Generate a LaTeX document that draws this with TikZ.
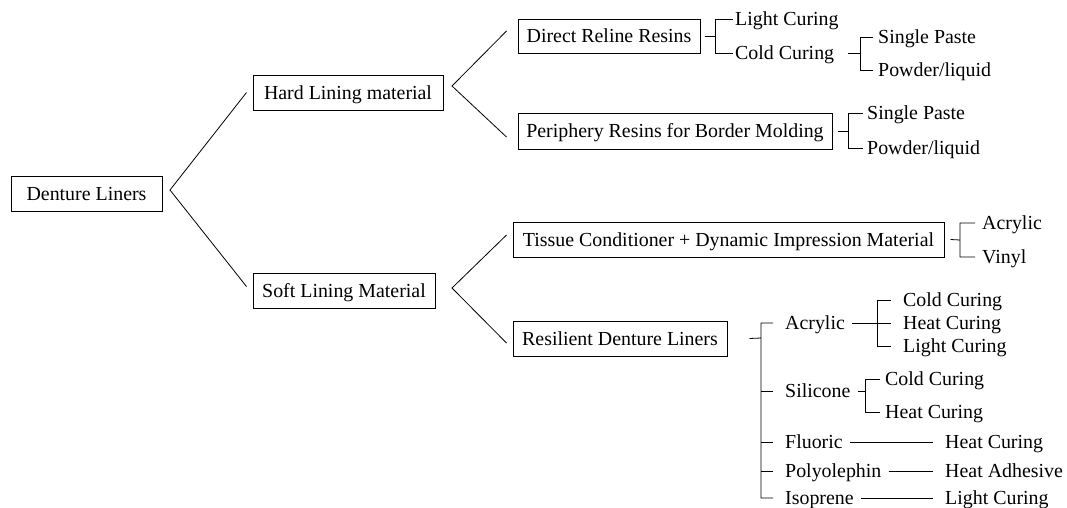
\documentclass[tikz,border=0pt]{standalone}
\usepackage{fontspec}
\setmainfont{Liberation Serif}
\usetikzlibrary{calc}
\tikzset{box/.style={draw, line width=1pt, inner sep=0pt, minimum height=35pt, text height=15pt, text depth=2pt},
	leaf/.style={anchor=west, inner sep=0pt, text height=15pt, text depth=2pt},
	link/.style={line width=0.8pt}}

\begin{document}
\begin{tikzpicture}[x=1pt, y=-1pt, font=\fontsize{19.9}{24}\selectfont]
		\useasboundingbox (0,0) rectangle (1067,507);
		
		\node[box, minimum width=151pt] (dl) at (86.5,193.5) {Denture Liners};
		\node[box, minimum width=190pt] (hard) at (348,92.5) {Hard Lining material};
		\node[box, minimum width=182pt] (soft) at (344,290.5) {Soft Lining Material};
		\node[box, minimum width=182pt, minimum height=34pt] (drr) at (609,36) {Direct Reline Resins};
		\node[box, minimum width=314pt, minimum height=36pt] (per) at (675,131) {Periphery Resins for Border Molding};
		\node[box, minimum width=431pt] (tis) at (728.5,239.5) {Tissue Conditioner + Dynamic Impression Material};
		\node[box, minimum width=214pt] (res) at (620,338.5) {Resilient Denture Liners};
		
		\node[leaf] (lc1) at (735,19) {Light Curing};
		\node[leaf] (cc1) at (735,53) {Cold Curing};
		\node[leaf] (sp1) at (878,37) {Single Paste};
		\node[leaf] (pl1) at (878,70) {Powder/liquid};
		\node[leaf] (sp2) at (867,113) {Single Paste};
		\node[leaf] (pl2) at (867,148) {Powder/liquid};
		\node[leaf] (ac1) at (982,223) {Acrylic};
		\node[leaf] (vi1) at (982,257) {Vinyl};
		
		\node[leaf] (ra) at (785,323) {Acrylic};
		\node[leaf] (rs) at (785,391) {Silicone};
		\node[leaf] (rf) at (785,442) {Fluoric};
		\node[leaf] (rp) at (785,471) {Polyolephin};
		\node[leaf] (ri) at (785,498) {Isoprene};
		\node[leaf] (rac) at (903,300) {Cold Curing};
		\node[leaf] (rah) at (903,323) {Heat Curing};
		\node[leaf] (ral) at (903,346) {Light Curing};
		\node[leaf] (rsc) at (885,379) {Cold Curing};
		\node[leaf] (rsh) at (885,412) {Heat Curing};
		\node[leaf] (rfh) at (945,442) {Heat Curing};
		\node[leaf] (rph) at (945,471) {Heat Adhesive};
		\node[leaf] (rih) at (945,498) {Light Curing};
		
		\coordinate (dlJ) at (170,190);
		\coordinate (hardJ) at (452,86);
		\coordinate (softJ) at (452,288);
		\coordinate (drrJ) at (715,36);
		\coordinate (cc1J) at (860,53);
		\coordinate (perJ) at (848,131);
		\coordinate (tisJ) at (960,240);
		\coordinate (resJ) at (761,338);
		\coordinate (raJ) at (877,323);
		\coordinate (rsJ) at (865,391);
		
		\draw[link] ($(hard.west)+(-6,0)$) -- (dlJ) -- ($(soft.west)+(-6,-4)$);
		\draw[link] ($(drr.west)+(-11,-5)$) -- (hardJ) -- ($(per.west)+(-11,6)$);
		\draw[link] ($(tis.west)+(-6,-4.5)$) -- (softJ) -- ($(res.west)+(-6,4.5)$);
		
		\draw[link] ($(drr.east)+(4,0)$) -- (drrJ) ($(lc1.west)+(-2,0)$) -| (drrJ) |- ($(cc1.west)+(-2,0)$);
		\draw[link] ($(cc1.east)+(14,0)$) -- (cc1J) ($(sp1.west)+(-5,0)$) -| (cc1J) |- ($(pl1.west)+(-5,0)$);
		\draw[link] ($(per.east)+(5,0)$) -- (perJ) ($(sp2.west)+(-4,0)$) -| (perJ) |- ($(pl2.west)+(-4,0)$);
		\draw[link] ($(tis.east)+(6,0)$) -- (tisJ) ($(ac1.west)+(-7,0)$) -| (tisJ) |- ($(vi1.west)+(-7,0)$);
		
		\draw[link] ($(res.east)+(22,0)$) -- (resJ) ($(ra.west)+(-12,0)$) -| (resJ) |- ($(ri.west)+(-12,0)$);
		\foreach \n in {rs,rf,rp}
			\draw[link] (resJ |- \n.west) -- ($(\n.west)+(-12,0)$);
		\draw[link] ($(ra.east)+(7,0)$) -- ($(rah.west)+(-12,0)$) ($(rac.west)+(-12,0)$) -| (raJ) |- ($(ral.west)+(-12,0)$);
		\draw[link] ($(rs.east)+(7,0)$) -- (rsJ) ($(rsc.west)+(-5,0)$) -| (rsJ) |- ($(rsh.west)+(-5,0)$);
		\draw[link] ($(rf.east)+(7,0)$) -- ($(rfh.west)+(-12,0)$);
		\draw[link] ($(rp.east)+(7,0)$) -- ($(rph.west)+(-12,0)$);
		\draw[link] ($(ri.east)+(7,0)$) -- ($(rih.west)+(-12,0)$);
	\end{tikzpicture}
\end{document}
